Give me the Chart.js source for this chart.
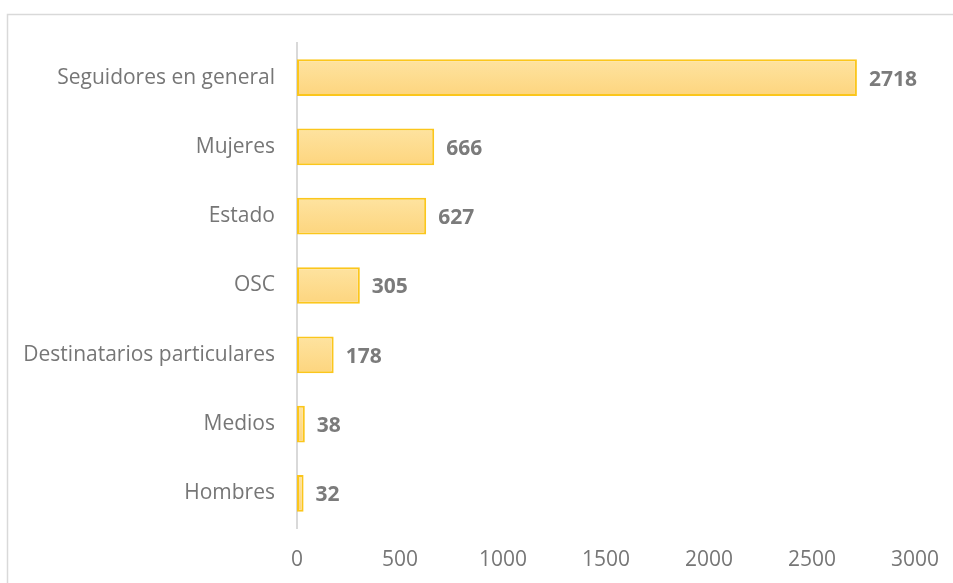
<!DOCTYPE html>
<html><head><meta charset="utf-8">
<script src="https://cdn.jsdelivr.net/npm/chart.js@4.4.0/dist/chart.umd.min.js"></script>
<style>html,body{margin:0;padding:0;background:#fff;}#wrap{width:953px;height:583px;position:relative;}</style>
</head><body><div id="wrap"><canvas id="c" width="953" height="583"></canvas></div>
<script>
const categories = ["Seguidores en general","Mujeres","Estado","OSC","Destinatarios particulares","Medios","Hombres"];
const values = [2718,666,627,305,178,38,32];
const xTicks = [0,500,1000,1500,2000,2500,3000];

const FONT = "'Open Sans', sans-serif";

const frame = {
  id:'frame',
  beforeDraw(chart){
    const ctx = chart.ctx;
    ctx.save();
    ctx.fillStyle='#fff';ctx.fillRect(0,0,chart.width,chart.height);
    ctx.strokeStyle='#d9d9d9';ctx.lineWidth=1.5;
    ctx.beginPath();ctx.moveTo(7.5,chart.height+2);ctx.lineTo(7.5,14.5);ctx.lineTo(chart.width+2,14.5);ctx.stroke();
    ctx.restore();
  }
};
const labels = {
  id:'labels',
  afterDatasetsDraw(chart){
    const ctx=chart.ctx;const meta=chart.getDatasetMeta(0);
    ctx.save();ctx.fillStyle='#7b7b7b';ctx.font="bold 21px "+FONT;ctx.textBaseline='middle';ctx.textAlign='left';
    meta.data.forEach((bar,i)=>{ctx.fillText(String(values[i]),bar.x+12,bar.y+2);});
    ctx.restore();
  }
};

new Chart(document.getElementById('c'),{
  type:'bar',
  data:{labels:categories,datasets:[{
    data:values,
    backgroundColor(ctx){
      const ch=ctx.chart;
      const ys=ch.scales && ch.scales.y;
      if(!ch.chartArea||!ys) return '#fddd90';
      const y=ys.getPixelForValue(ctx.dataIndex);
      const h=(ch.chartArea.bottom-ch.chartArea.top)/categories.length*0.53;
      if(!isFinite(y)||!isFinite(h)) return '#fddd90';
      const g=ch.ctx.createLinearGradient(0,y-h/2,0,y+h/2);
      g.addColorStop(0,'#fee3a0');g.addColorStop(1,'#fdd57e');
      return g;
    },
    borderColor:'#fbc61c',borderWidth:2,borderSkipped:false,
    categoryPercentage:1,barPercentage:0.53
  }]},
  options:{
    indexAxis:'y',responsive:false,animation:false,
    layout:{padding:{top:43,right:38,bottom:0,left:0}},
    plugins:{legend:{display:false},tooltip:{enabled:false}},
    scales:{
      x:{min:0,max:3000,afterBuildTicks(s){s.ticks=xTicks.map(v=>({value:v}));},
        afterFit(s){s.height=55;s.paddingLeft=0;s.paddingRight=0;},
        grid:{display:false,drawTicks:false},border:{display:false},
        ticks:{color:'#767676',font:{family:FONT,size:21},padding:19,maxRotation:0,autoSkip:false,callback:(v)=>String(v)}},
      y:{grid:{display:false,drawTicks:false},border:{display:true,color:'#d9d9d9',width:2},
        afterFit(s){s.width=297;s.paddingTop=0;s.paddingBottom=0;},
        ticks:{color:'#767676',font:{family:FONT,size:21},padding:22}}
    }
  },
  plugins:[frame,labels]
});
</script></body></html>
